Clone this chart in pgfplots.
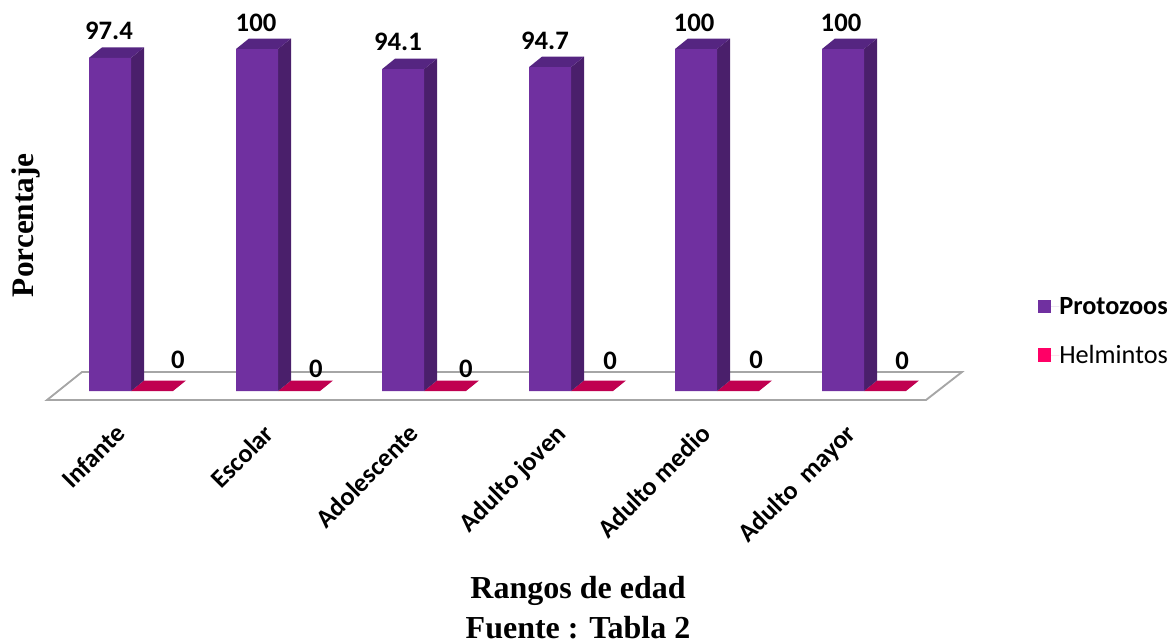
\documentclass[border=0pt]{standalone}
\usepackage{pgfplots}
\usepackage{pgfplotstable}
\usepackage{fontspec}
\pgfplotsset{compat=1.18}
\setmainfont{Carlito}
\newfontfamily\timesb{Liberation Serif}[Scale=1]

\definecolor{proto}{HTML}{7030A0}
\definecolor{protoside}{HTML}{4A1F6B}
\definecolor{prototop}{HTML}{552581}
\definecolor{helmtop}{HTML}{C00050}
\definecolor{helm}{HTML}{FF0066}
\definecolor{floorline}{HTML}{A6A6A6}

% x is the layout position of each group, y is the percentage
\pgfplotstableread{
x   v
110 97.4
257 100
403 94.1
550 94.7
696 100
843 100
}\protozoos

% where the value labels sit
\pgfplotstableread{
x   y     label
109 105.3 97.4
256 107.6 100
398 102.0 94.1
545 102.3 94.7
694 107.6 100
841 107.6 100
178 9.1   0
316 6.4   0
466 6.4   0
610 8.8   0
756 9.1   0
902 8.8   0
}\valuelabels

% left edge, right edge, value, value + depth
\newcommand{\barfaces}[4]{%
  \pgfmathsetmacro{\xlb}{#1+13}\pgfmathsetmacro{\xrb}{#2+13}%
  \edef\temp{\noexpand\addplot[fill=protoside,draw=none,forget plot] coordinates {(#2,0) (\xrb,3.07) (\xrb,#4) (#2,#3)} --cycle;
  \noexpand\addplot[fill=prototop,draw=none,forget plot] coordinates {(#1,#3) (#2,#3) (\xrb,#4) (\xlb,#4)} --cycle;}\temp}
\newcommand{\helmbar}[2]{%
  \pgfmathsetmacro{\xlb}{#1+13}\pgfmathsetmacro{\xrb}{#2+13}%
  \edef\temp{\noexpand\addplot[fill=helmtop,draw=none,forget plot] coordinates {(#1,0) (#2,0) (\xrb,3.07) (\xlb,3.07)} --cycle;}\temp}

\begin{document}
\begin{tikzpicture}
\useasboundingbox (0,-178.5pt) rectangle (879.75pt,301.5pt);
\begin{axis}[
  at={(0,0)}, anchor=south west,
  scale only axis, width=879.75pt, height=301.5pt,
  xmin=0, xmax=1173, ymin=-3.216, ymax=114.327,
  clip=false,
  axis line style={draw=none},
  major tick style={draw=none},
  ytick=\empty,
  xtick={94,242,387,534,679,824},
  xticklabels={Infante,Escolar,Adolescente,Adulto joven,Adulto medio,Adulto\ \ mayor},
  xticklabel style={rotate=45,anchor=north east,font=\fontsize{19.5}{23}\selectfont\bfseries,inner sep=0pt,yshift=-21.5pt},
  xlabel={Rangos de edad\\Fuente : Tabla 2},
  xlabel style={at={(rel axis cs:0.4928,-0.512)},anchor=center,align=center,inner sep=0pt,font=\timesb\fontsize{24}{30}\selectfont\bfseries},
  ylabel={Porcentaje},
  ylabel style={at={(rel axis cs:0.0225,0.44)},anchor=center,font=\timesb\fontsize{23.5}{28}\selectfont\bfseries},
  legend style={draw=none,fill=none,at={(axis cs:1038,17.5)},anchor=west,row sep=21.5pt,inner sep=0pt,
    font=\fontsize{19.7}{23}\selectfont,
    nodes={inner sep=0pt}},
  legend cell align=left,
  legend image code/.code={\path[#1] (0,-4.9pt) rectangle (9.75pt,4.9pt);\path (0,0) -- (15.75pt,0);},
]
% floor
\addplot[fill=white,draw=floorline,line width=1.4pt,forget plot] coordinates {(47,-2.63) (926,-2.63) (962,5.56) (82,5.56)} --cycle;

% helmintos, all zero so only the flat top shows
\helmbar{131}{173}
\helmbar{278}{320}
\helmbar{424}{466}
\helmbar{571}{613}
\helmbar{717}{759}
\helmbar{864}{906}

% sides and tops of the protozoos bars
\barfaces{89}{131}{97.4}{100.47}
\barfaces{236}{278}{100}{103.07}
\barfaces{382}{424}{94.1}{97.17}
\barfaces{529}{571}{94.7}{97.77}
\barfaces{675}{717}{100}{103.07}
\barfaces{822}{864}{100}{103.07}

\addplot[ybar,bar width=31.5pt,bar shift=0pt,fill=proto,draw=none,forget plot] table[x=x,y=v] {\protozoos};

\addplot[only marks,mark=none,forget plot,point meta=explicit symbolic,
  nodes near coords,
  nodes near coords style={anchor=center,inner sep=0pt,font=\fontsize{20}{24}\selectfont\bfseries}]
  table[x=x,y=y,meta=label] {\valuelabels};

\addlegendimage{fill=proto,draw=none}
\addlegendentry{\textbf{Protozoos}}
\addlegendimage{fill=helm,draw=none}
\addlegendentry{Helmintos}
\end{axis}
\end{tikzpicture}
\end{document}
